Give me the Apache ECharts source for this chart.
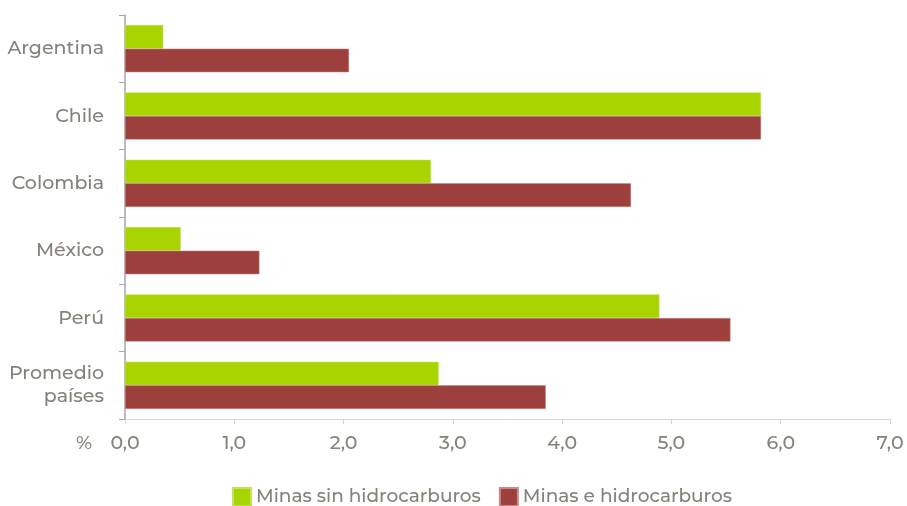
<!DOCTYPE html>
<html><head><meta charset="utf-8">
<script src="https://cdn.jsdelivr.net/npm/echarts@6/dist/echarts.min.js"></script>
<style>html,body{margin:0;padding:0;background:#fff}#c{width:907px;height:506px}</style>
</head><body><div id="c"></div>
<script>
const categories = ['Argentina', 'Chile', 'Colombia', 'México', 'Perú', 'Promedio\npaíses'];
const seriesNames = ['Minas sin hidrocarburos', 'Minas e hidrocarburos'];
const sinHidro = [0.35, 5.82, 2.80, 0.51, 4.89, 2.87];
const conHidro = [2.05, 5.82, 4.63, 1.23, 5.54, 3.85];
const xTicks = { min: 0, max: 7, interval: 1 };

const textColor = '#85827a';
const font = 'Montserrat, "Noto Sans", sans-serif';
const chart = echarts.init(document.getElementById('c'));
chart.setOption({
  animation: false,
  textStyle: { fontFamily: font },
  grid: { left: 125, right: 17, top: 15, bottom: 87 },
  legend: {
    top: 487, left: 232, padding: 0, itemWidth: 18, itemHeight: 18, itemGap: 18,
    icon: 'rect',
    textStyle: { color: textColor, fontSize: 18.5, fontWeight: 500, fontFamily: font }
  },
  xAxis: {
    type: 'value', min: xTicks.min, max: xTicks.max, interval: xTicks.interval,
    name: '%', nameLocation: 'start', nameGap: 33,
    nameTextStyle: { color: textColor, fontSize: 19, fontWeight: 500, verticalAlign: 'top', padding: [15, 0, 0, 0] },
    axisLine: { show: true, lineStyle: { color: '#c9d5ef', width: 1 } },
    axisTick: { show: true, length: 5, lineStyle: { color: '#c9d5ef' } },
    splitLine: { show: false },
    axisLabel: { color: textColor, fontSize: 19, fontWeight: 500, margin: 15,
      formatter: v => v.toFixed(1).replace('.', ',') }
  },
  yAxis: {
    type: 'category', data: categories, inverse: true,
    axisLine: { show: true, lineStyle: { color: '#a6a6a6', width: 1.5 } },
    axisTick: { show: true, length: 6, lineStyle: { color: '#a6a6a6' } },
    axisLabel: { color: textColor, fontSize: 19, fontWeight: 500, margin: 21, lineHeight: 23, align: 'right' }
  },
  series: [
    { name: seriesNames[0], type: 'bar', data: sinHidro, barGap: '0%', barCategoryGap: '30%',
      itemStyle: { color: '#a8d400', borderColor: '#c3e25a', borderWidth: 0.5 } },
    { name: seriesNames[1], type: 'bar', data: conHidro, barGap: '0%', barCategoryGap: '30%',
      itemStyle: { color: '#9d3f3c', borderColor: '#c68b88', borderWidth: 0.5 } }
  ]
});
</script></body></html>
